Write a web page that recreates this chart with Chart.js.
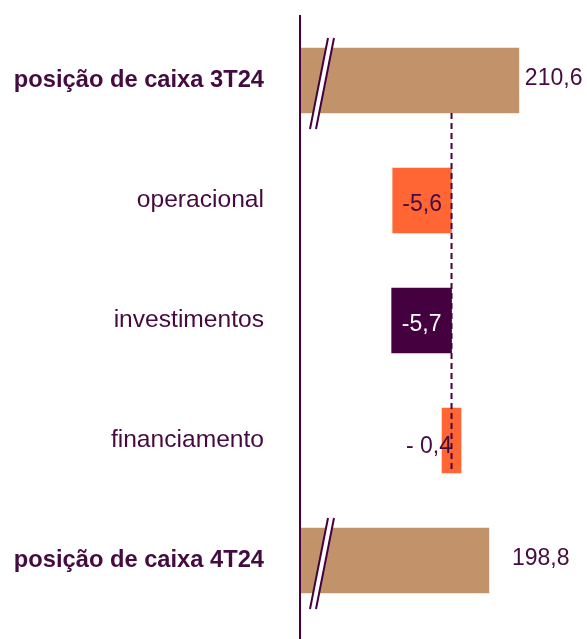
<!DOCTYPE html>
<html><head><meta charset="utf-8">
<script src="https://cdn.jsdelivr.net/npm/chart.js@4"></script>
<style>html,body{margin:0;padding:0;background:#fff}#w{width:587px;height:639px;position:relative}</style>
</head><body><div id="w"><canvas id="c"></canvas></div>
<script>
const categories = ["posição de caixa 3T24", "operacional", "investimentos", "financiamento", "posição de caixa 4T24"];
const totalValues = [210.6, null, null, null, 198.8];
const deltaValues = [null, -5.6, -5.7, -0.4, null];
const totalLabels = ["210,6", "", "", "", "198,8"];
const deltaLabels = ["", "-5,6", "-5,7", "- 0,4", ""];
const boldRows = [true, false, false, false, true];

const PURPLE = '#45003F';
const TEXT = '#450A40';
const TAN = '#C2936A';
const ORANGE = '#FF6633';
const deltaColors = ['rgba(0,0,0,0)', ORANGE, PURPLE, ORANGE, 'rgba(0,0,0,0)'];
const deltaTextColors = ['', TEXT, '#FFFFFF', TEXT, ''];
const totalLabelGap = [6, 0, 0, 0, 23];

const overlay = {
  id: 'overlay',
  afterDatasetsDraw(chart) {
    const ctx = chart.ctx;
    const mt = chart.getDatasetMeta(0);
    const md = chart.getDatasetMeta(1);
    const x2 = chart.scales.x2;
    const zx = x2.getPixelForValue(0);
    const ax = chart.chartArea.left;
    // dashed connector
    const firstBar = mt.data[0];
    const lastDelta = md.data[3];
    ctx.save();
    ctx.strokeStyle = PURPLE;
    ctx.lineWidth = 2;
    ctx.setLineDash([6, 4]);
    ctx.beginPath();
    ctx.moveTo(zx, firstBar.y + firstBar.height / 2);
    ctx.lineTo(zx, lastDelta.y + lastDelta.height / 2);
    ctx.stroke();
    ctx.restore();

    // break marks on totals
    mt.data.forEach((bar, i) => {
      if (totalValues[i] == null) return;
      const top = bar.y - bar.height / 2, bot = bar.y + bar.height / 2;
      const bx = ax;
      const t = top - 10, b = bot + 16;
      ctx.save();
      ctx.fillStyle = '#FFFFFF';
      ctx.beginPath();
      ctx.moveTo(bx + 28, t); ctx.lineTo(bx + 34, t);
      ctx.lineTo(bx + 16, b); ctx.lineTo(bx + 10, b);
      ctx.closePath(); ctx.fill();
      ctx.strokeStyle = PURPLE; ctx.lineWidth = 2;
      ctx.beginPath();
      ctx.moveTo(bx + 28, t); ctx.lineTo(bx + 10, b);
      ctx.moveTo(bx + 34, t); ctx.lineTo(bx + 16, b);
      ctx.stroke();
      ctx.restore();
      // value label
      ctx.save();
      ctx.font = '23px "Liberation Sans", Arial, sans-serif';
      ctx.fillStyle = TEXT;
      ctx.textBaseline = 'middle';
      ctx.textAlign = 'left';
      ctx.fillText(totalLabels[i], bar.x + totalLabelGap[i], bar.y - 2);
      ctx.restore();
    });

    // delta labels
    md.data.forEach((bar, i) => {
      if (deltaValues[i] == null) return;
      ctx.save();
      ctx.font = '23px "Liberation Sans", Arial, sans-serif';
      ctx.fillStyle = deltaTextColors[i];
      ctx.textBaseline = 'middle';
      const left = Math.min(bar.x, bar.base), right = Math.max(bar.x, bar.base);
      const w = ctx.measureText(deltaLabels[i]).width;
      if (w + 6 < right - left) {
        ctx.textAlign = 'center';
        ctx.fillText(deltaLabels[i], (left + right) / 2, bar.y + 4);
      } else {
        ctx.textAlign = 'right';
        ctx.fillText(deltaLabels[i], right - 9, bar.y + 6);
      }
      ctx.restore();
    });

    // vertical axis line
    ctx.save();
    ctx.strokeStyle = PURPLE; ctx.lineWidth = 2;
    ctx.beginPath();
    ctx.moveTo(ax, 15); ctx.lineTo(ax, chart.height);
    ctx.stroke();
    ctx.restore();
  }
};

new Chart(document.getElementById('c'), {
  type: 'bar',
  data: {
    labels: categories,
    datasets: [
      {
        label: 'posição de caixa',
        data: totalValues,
        xAxisID: 'x',
        backgroundColor: TAN,
        barThickness: 65,
        grouped: false
      },
      {
        label: 'fluxo',
        data: deltaValues.map(v => v == null ? null : [v, 0]),
        xAxisID: 'x2',
        backgroundColor: deltaColors,
        barThickness: 65,
        minBarLength: 19,
        grouped: false
      }
    ]
  },
  options: {
    indexAxis: 'y',
    responsive: true,
    maintainAspectRatio: false,
    animation: false,
    layout: { padding: { top: 20.5, bottom: 18.5, left: 0, right: 0 } },
    plugins: { legend: { display: false }, tooltip: { enabled: false } },
    scales: {
      x: { type: 'linear', min: 124.5, max: 237.4, display: false },
      x2: { type: 'linear', min: -14.43, max: 12.9, display: false },
      y: {
        type: 'category',
        grid: { display: false },
        border: { display: false },
        afterFit(scale) { scale.width = 300; scale.paddingTop = 0; scale.paddingBottom = 0; },
        ticks: {
          padding: 28,
          color: TEXT,
          font: (c) => boldRows[c.index]
            ? { family: '"Liberation Sans", Arial, sans-serif', size: 23.7, weight: 'bold' }
            : { family: '"Liberation Sans", Arial, sans-serif', size: 24.6, weight: 'normal' }
        }
      }
    }
  },
  plugins: [overlay]
});
</script>
</body></html>
